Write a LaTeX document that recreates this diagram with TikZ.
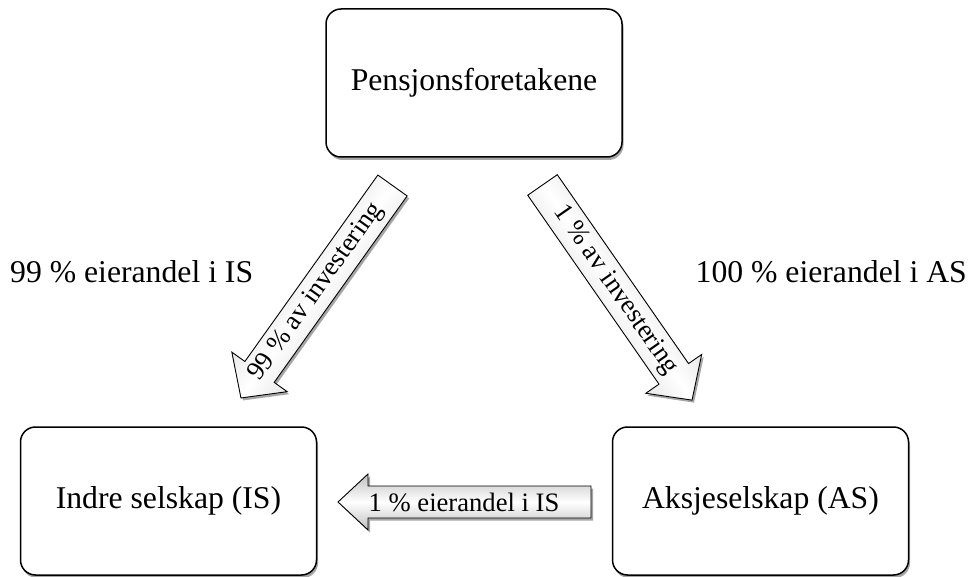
\documentclass[tikz,border=0pt]{standalone}
\usepackage{fontspec}
\setmainfont{Liberation Serif}
\usetikzlibrary{shadows,calc}
\newcommand\blockarrowpath[4]{(0,-#2) -- ({#1-#4},-#2) -- ({#1-#4},-#3) -- (#1,0) -- ({#1-#4},#3) -- ({#1-#4},#2) -- (0,#2) -- cycle}
\begin{document}
\begin{tikzpicture}[x=1pt,y=-1pt,
  box/.style={draw=black, line width=1.5pt, rounded corners=15pt, fill=white,
    minimum width=296pt, minimum height=148pt, font=\fontsize{31.7}{38}\selectfont,
    drop shadow={shadow xshift=1.5pt, shadow yshift=-3pt, opacity=0.35, fill=black}},
  lbl/.style={font=\fontsize{31.7}{38}\selectfont, inner sep=0pt},
  arrowbody/.style={draw=black, line width=0.9pt, line join=miter,
    top color=gray!50, bottom color=gray!50, middle color=white},
  arrowshadow/.style={fill=black, opacity=0.35, draw=none},
  arrowtext/.style={font=\fontsize{26.6}{30}\selectfont, inner sep=0pt}
]
\useasboundingbox (0,0) rectangle (975,577);

\node[box] (pf) at (474,83) {Pensjonsforetakene};
\node[box] (is) at (168.5,501) {Indre selskap (IS)};
\node[box] (as) at (760.5,501) {Aksjeselskap (AS)};

\node[lbl, anchor=west] (l1) at (10,272) {99 \% eierandel i IS};
\node[lbl, anchor=east] (l2) at (967,272) {100 \% eierandel i AS};

% tails of the block arrows
\coordinate (s1) at (392.5,185.5);
\coordinate (s2) at (542.5,185);
\coordinate (s3) at (591,502);

% arrow 1: Pensjonsforetakene -> IS
\begin{scope}[shift={($(s1)+(2,2.5)$)}, rotate=234.5, x=1pt, y=1pt]
  \path[arrowshadow] \blockarrowpath{261}{18}{34}{32};
\end{scope}
\begin{scope}[shift={(s1)}, rotate=234.5, x=1pt, y=1pt]
  \path[arrowbody, shading angle=54.5] \blockarrowpath{261}{18}{34}{32};
  \coordinate (m1) at (131,0);
\end{scope}
\node[arrowtext, rotate=54.5] (a1) at (m1) {99 \% av investering};

% arrow 2: Pensjonsforetakene -> AS
\begin{scope}[shift={($(s2)+(2,2.5)$)}, rotate=-55.2, x=1pt, y=1pt]
  \path[arrowshadow] \blockarrowpath{262}{18}{34}{32};
\end{scope}
\begin{scope}[shift={(s2)}, rotate=-55.2, x=1pt, y=1pt]
  \path[arrowbody, shading angle=-55.2] \blockarrowpath{262}{18}{34}{32};
  \coordinate (m2) at (128,0);
\end{scope}
\node[arrowtext, rotate=-55.2] (a2) at (m2) {1 \% av investering};

% arrow 3: AS -> IS
\begin{scope}[shift={($(s3)+(2,2.5)$)}, rotate=180, x=1pt, y=1pt]
  \path[arrowshadow] \blockarrowpath{253}{16}{28}{30};
\end{scope}
\begin{scope}[shift={(s3)}, rotate=180, x=1pt, y=1pt]
  \path[arrowbody] \blockarrowpath{253}{16}{28}{30};
  \coordinate (m3) at (127,0);
\end{scope}
\node[arrowtext] (a3) at (m3) {1 \% eierandel i IS};
\end{tikzpicture}
\end{document}
